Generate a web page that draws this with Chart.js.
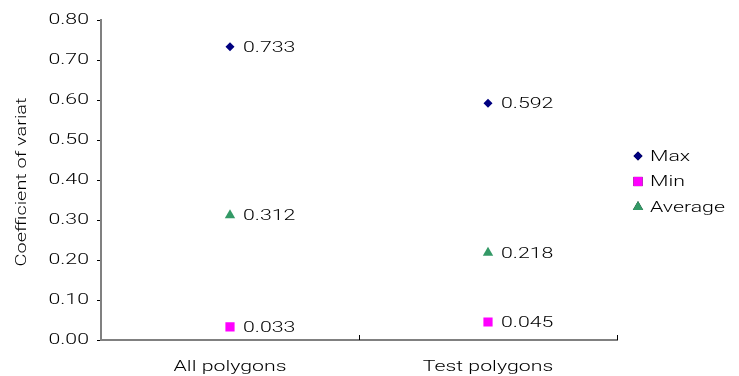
<!DOCTYPE html>
<html>
<head>
<meta charset="utf-8">
<script src="https://cdn.jsdelivr.net/npm/chart.js@4/dist/chart.umd.min.js"></script>
<style>
  html, body { margin: 0; padding: 0; background: #fff; }
  #wrap { width: 739px; height: 376px; }
</style>
</head>
<body>
<div id="wrap"><canvas id="cv_chart"></canvas></div>
<script>
let categories = ['All polygons', 'Test polygons'];
let maxValues = [0.733, 0.592];
let minValues = [0.033, 0.045];
let avgValues = [0.312, 0.218];
let seriesNames = ['Max', 'Min', 'Average'];
let yTicks = [0, 0.1, 0.2, 0.3, 0.4, 0.5, 0.6, 0.7, 0.8];
let yTitle = 'Coefficient of variat';

let fontFamily = 'Roboto, "Liberation Sans", Arial, sans-serif';
let fontWeight = '300';
let stretch = 1.42;

// the original text is drawn with wide glyphs: stretch every fillText sideways around its anchor
let wideText = {
    id: 'wideText',
    beforeInit: function(chart) {
        let ctx = chart.ctx;
        let orig = ctx.fillText.bind(ctx);
        ctx.fillText = function(t, x, y, mw) {
            ctx.save();
            ctx.translate(x, y);
            ctx.scale(stretch, 1);
            if (mw !== undefined) orig(t, 0, 0, mw / stretch);
            else orig(t, 0, 0);
            ctx.restore();
        };
    }
};

// data labels, y title, x-axis boundary ticks and legend
let extras = {
    id: 'extras',
    afterDatasetsDraw: function(chart) {
        let ctx = chart.ctx;
        ctx.save();
        ctx.font = fontWeight + ' 15px ' + fontFamily;
        ctx.fillStyle = '#000';
        ctx.textBaseline = 'middle';
        ctx.textAlign = 'left';
        chart.data.datasets.forEach(function(ds, i) {
            chart.getDatasetMeta(i).data.forEach(function(pt, j) {
                ctx.fillText(ds.data[j].toFixed(3), pt.x + 13, pt.y + 1);
            });
        });

        // y axis title
        ctx.save();
        ctx.translate(22, (chart.chartArea.top + chart.chartArea.bottom) / 2 + 2);
        ctx.rotate(-Math.PI / 2);
        ctx.textAlign = 'center';
        ctx.font = fontWeight + ' 14px ' + fontFamily;
        ctx.fillText(yTitle, 0, 0);
        ctx.restore();

        // x axis category boundary ticks (pointing up)
        let xs = chart.scales.x;
        let bottom = chart.chartArea.bottom;
        ctx.strokeStyle = '#000';
        ctx.lineWidth = 1;
        let half = (xs.getPixelForValue(1) - xs.getPixelForValue(0)) / 2;
        [xs.getPixelForValue(0) + half, xs.getPixelForValue(1) + half].forEach(function(px) {
            ctx.beginPath();
            ctx.moveTo(Math.round(px) + 0.5, bottom);
            ctx.lineTo(Math.round(px) + 0.5, bottom - 5);
            ctx.stroke();
        });

        // legend
        let lx = 638, ly = 156;
        chart.data.datasets.forEach(function(ds, i) {
            let y = ly + i * 25.5;
            Chart.helpers.drawPoint(ctx, {
                pointStyle: ds.pointStyle,
                radius: ds.pointRadius,
                borderWidth: 0
            }, lx, y);
            ctx.fillStyle = ds.backgroundColor;
            ctx.fill();
            ctx.fillStyle = '#000';
            ctx.fillText(ds.label, lx + 12, y + 1);
        });
        ctx.restore();
    }
};

let chart = new Chart(document.getElementById('cv_chart'), {
    type: 'line',
    data: {
        labels: categories,
        datasets: [
            {
                label: seriesNames[0],
                data: maxValues,
                showLine: false,
                pointStyle: 'rectRot',
                pointRadius: 4.5,
                backgroundColor: '#000080',
                borderColor: '#000080',
                borderWidth: 0
            },
            {
                label: seriesNames[1],
                data: minValues,
                showLine: false,
                pointStyle: 'rect',
                pointRadius: 6.5,
                backgroundColor: '#FF00FF',
                borderColor: '#FF00FF',
                borderWidth: 0
            },
            {
                label: seriesNames[2],
                data: avgValues,
                showLine: false,
                pointStyle: 'triangle',
                pointRadius: 6,
                backgroundColor: '#339966',
                borderColor: '#339966',
                borderWidth: 0
            }
        ]
    },
    options: {
        responsive: true,
        maintainAspectRatio: false,
        animation: false,
        layout: { padding: { top: 20, right: 122, left: 0, bottom: 0 } },
        plugins: {
            legend: { display: false },
            tooltip: { enabled: false }
        },
        scales: {
            x: {
                type: 'category',
                offset: true,
                grid: { display: false, drawTicks: false },
                border: { display: true, color: '#808080', width: 2 },
                ticks: {
                    color: '#000',
                    padding: 18,
                    font: { family: fontFamily, size: 15, weight: fontWeight }
                },
                afterFit: function(scale) { scale.height = 36; }
            },
            y: {
                min: 0,
                max: 0.8,
                afterBuildTicks: function(scale) {
                    scale.ticks = yTicks.map(function(v) { return { value: v }; });
                },
                grid: {
                    drawOnChartArea: false,
                    drawTicks: true,
                    tickLength: 4,
                    color: '#000'
                },
                border: { display: true, color: '#808080', width: 2 },
                ticks: {
                    color: '#000',
                    padding: 8,
                    font: { family: fontFamily, size: 15, weight: fontWeight },
                    callback: function(v) { return Number(v).toFixed(2); }
                },
                afterFit: function(scale) { scale.width = 101; }
            }
        }
    },
    plugins: [wideText, extras]
});
</script>
</body>
</html>
